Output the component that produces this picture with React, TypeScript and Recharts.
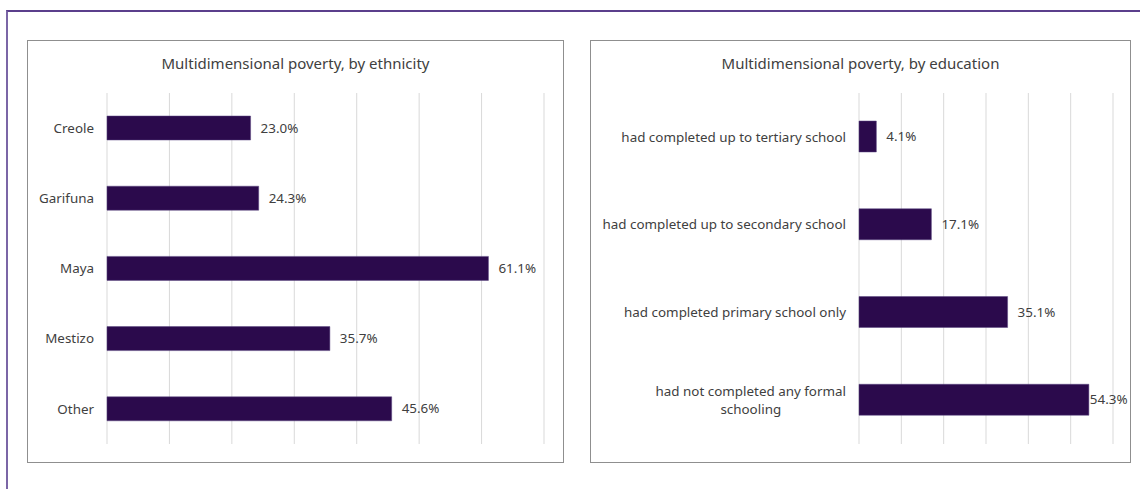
import { BarChart, Bar, XAxis, YAxis, CartesianGrid, LabelList } from 'recharts'

const ethnicityNames = ['Creole', 'Garifuna', 'Maya', 'Mestizo', 'Other']
const ethnicityValues = [23.0, 24.3, 61.1, 35.7, 45.6]
const ethnicityTicks = [0, 10, 20, 30, 40, 50, 60, 70]

const educationNames = [
  'had completed up to tertiary school',
  'had completed up to secondary school',
  'had completed primary school only',
  'had not completed any formal schooling',
]
const educationValues = [4.1, 17.1, 35.1, 54.3]
const educationTicks = [0, 10, 20, 30, 40, 50, 60]

const FONT = '"Noto Sans", "Open Sans", sans-serif'
const TEXT = '#404040'
const BAR = '#2B0A4C'
const FS = 13.4

let ctx: CanvasRenderingContext2D | null = null
function measure(s: string, size = FS) {
  if (!ctx) ctx = document.createElement('canvas').getContext('2d')
  if (!ctx) return s.length * size * 0.55
  ctx.font = `${size}px ${FONT}`
  return ctx.measureText(s).width
}

// wrap long category names, lines centred on each other, block right-aligned
function CategoryTick(props: any) {
  const { x, y, payload, maxWidth } = props
  const words = String(payload.value).split(' ')
  const lines: string[] = []
  let cur = ''
  words.forEach((w) => {
    const next = cur ? cur + ' ' + w : w
    if (measure(next) > maxWidth && cur) {
      lines.push(cur)
      cur = w
    } else cur = next
  })
  if (cur) lines.push(cur)
  const blockW = Math.max(...lines.map((l) => measure(l)))
  const lh = 17.5
  const y0 = y - ((lines.length - 1) * lh) / 2
  return (
    <text fontFamily={FONT} fontSize={FS} fill={TEXT}>
      {lines.map((l, i) => (
        <tspan
          key={i}
          x={lines.length > 1 ? x - blockW / 2 : x}
          y={y0 + i * lh}
          dy="0.35em"
          textAnchor={lines.length > 1 ? 'middle' : 'end'}
        >
          {l}
        </tspan>
      ))}
    </text>
  )
}

function ValueLabel(props: any) {
  const { x, y, width, height, value, limit } = props
  const s = `${Number(value).toFixed(1)}%`
  const end = x + width
  let tx = end + 10
  if (tx + measure(s) > limit) tx = end + 1
  return (
    <text x={tx} y={y + height / 2} dy="0.35em" fontFamily={FONT} fontSize={FS} fill={TEXT}>
      {s}
    </text>
  )
}

interface PanelProps {
  title: string
  names: string[]
  values: number[]
  ticks: number[]
  left: number
  width: number
  yAxisWidth: number
  marginRight: number
  barSize: number
  wrapWidth: number
}

function Panel({ title, names, values, ticks, left, width, yAxisWidth, marginRight, barSize, wrapWidth }: PanelProps) {
  const data = names.map((name, i) => ({ name, value: values[i] }))
  const innerW = width - 2
  const innerH = 421
  return (
    <div
      style={{
        position: 'absolute', left, top: 40, width: innerW, height: innerH,
        border: '1px solid #8f8f8f', background: '#fff',
      }}
    >
      <div
        style={{
          position: 'absolute', left: 0, top: 12, width: innerW, textAlign: 'center',
          fontFamily: FONT, fontSize: 15, color: TEXT,
        }}
      >
        {title}
      </div>
      <div style={{ position: 'absolute', left: 0, top: 0 }}>
        <BarChart
          width={innerW}
          height={innerH}
          data={data}
          layout="vertical"
          margin={{ top: 52, right: marginRight, bottom: 18, left: 0 }}
          barCategoryGap={0}
        >
          <CartesianGrid horizontal={false} stroke="#d9d9d9" />
          <XAxis type="number" domain={[0, ticks[ticks.length - 1]]} ticks={ticks} hide />
          <YAxis
            type="category"
            dataKey="name"
            width={yAxisWidth}
            axisLine={false}
            tickLine={false}
            tickSize={0}
            tickMargin={13}
            interval={0}
            tick={<CategoryTick maxWidth={wrapWidth} />}
          />
          <Bar dataKey="value" fill={BAR} barSize={barSize} stroke="#5a4780" strokeWidth={0.5} isAnimationActive={false}>
            <LabelList dataKey="value" content={<ValueLabel limit={innerW - 4} />} />
          </Bar>
        </BarChart>
      </div>
    </div>
  )
}

export default function App() {
  return (
    <div style={{ position: 'absolute', left: 0, top: 0, width: 1140, height: 489, overflow: 'hidden', background: '#fff' }}>
      <div
        style={{
          position: 'absolute', left: 6, top: 10, width: 1200, height: 600,
          borderLeft: '2px solid #7b66a6', borderTop: '2px solid #5b3f8c',
        }}
      />
      <Panel
        title="Multidimensional poverty, by ethnicity"
        names={ethnicityNames}
        values={ethnicityValues}
        ticks={ethnicityTicks}
        left={27}
        width={537}
        yAxisWidth={79}
        marginRight={19}
        barSize={24}
        wrapWidth={251}
      />
      <Panel
        title="Multidimensional poverty, by education"
        names={educationNames}
        values={educationValues}
        ticks={educationTicks}
        left={590}
        width={541}
        yAxisWidth={268}
        marginRight={17}
        barSize={31}
        wrapWidth={251}
      />
    </div>
  )
}
